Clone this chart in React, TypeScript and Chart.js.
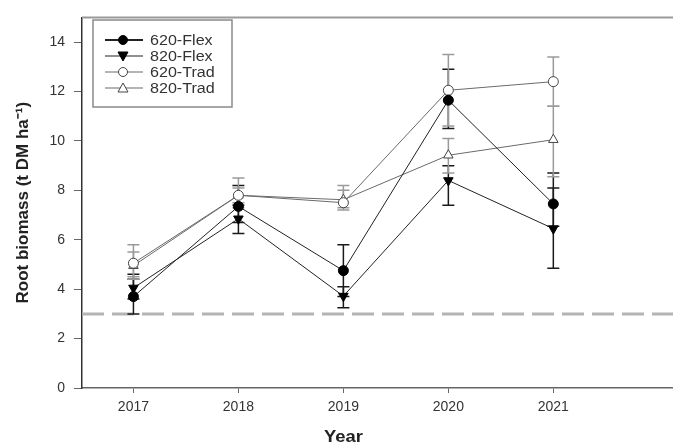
import React, { useEffect, useRef } from "react";
import { Chart, registerables } from "chart.js";

Chart.register(...registerables);

const years = [2017, 2018, 2019, 2020, 2021];
const yTicks = [0, 2, 4, 6, 8, 10, 12, 14];

const flex620 = [3.7, 7.35, 4.75, 11.65, 7.45];
const flex620Low = [3.0, 6.7, 3.7, 10.5, 6.55];
const flex620High = [4.4, 8.2, 5.8, 12.9, 8.7];

const flex820 = [4.05, 6.85, 3.72, 8.4, 6.45];
const flex820Low = [3.6, 6.25, 3.25, 7.4, 4.85];
const flex820High = [4.6, 7.4, 4.1, 9.0, 8.1];

const trad620 = [5.05, 7.8, 7.5, 12.05, 12.4];
const trad620Low = [4.4, 7.3, 7.2, 10.6, 11.4];
const trad620High = [5.8, 8.5, 8.2, 13.5, 13.4];

const trad820 = [4.95, 7.8, 7.62, 9.42, 10.05];
const trad820Low = [4.5, 7.5, 7.3, 8.7, 8.55];
const trad820High = [5.5, 8.1, 8.0, 10.1, 11.4];

const referenceLine = 3.0;

const FONT = "'Liberation Sans', Arial, sans-serif";

const errLow = [flex620Low, flex820Low, trad620Low, trad820Low];
const errHigh = [flex620High, flex820High, trad620High, trad820High];
const errColor = ["#1a1a1a", "#1a1a1a", "#9a9a9a", "#9a9a9a"];

const toPts = (arr: number[]) => years.map((x, i) => ({ x, y: arr[i] }));

const backPlugin = {
  id: "backDecor",
  beforeDatasetsDraw(chart: any) {
    const { ctx, chartArea, scales } = chart;
    const xs = scales.x;
    const ys = scales.y;
    ctx.save();
    const yr = ys.getPixelForValue(referenceLine);
    ctx.strokeStyle = "#b4b4b4";
    ctx.lineWidth = 3;
    ctx.setLineDash([22, 8]);
    ctx.beginPath();
    ctx.moveTo(chartArea.left, yr);
    ctx.lineTo(chartArea.right, yr);
    ctx.stroke();
    ctx.setLineDash([]);
    for (let d = 0; d < errLow.length; d++) {
      ctx.strokeStyle = errColor[d];
      ctx.lineWidth = 1.5;
      for (let i = 0; i < years.length; i++) {
        const px = xs.getPixelForValue(years[i]);
        const lo = ys.getPixelForValue(errLow[d][i]);
        const hi = ys.getPixelForValue(errHigh[d][i]);
        ctx.beginPath();
        ctx.moveTo(px, lo);
        ctx.lineTo(px, hi);
        ctx.moveTo(px - 6, lo);
        ctx.lineTo(px + 6, lo);
        ctx.moveTo(px - 6, hi);
        ctx.lineTo(px + 6, hi);
        ctx.stroke();
      }
    }
    ctx.restore();
  },
  afterDraw(chart: any) {
    const { ctx, chartArea, scales } = chart;
    ctx.save();
    ctx.strokeStyle = "#9a9a9a";
    ctx.lineWidth = 2;
    ctx.beginPath();
    ctx.moveTo(chartArea.left, chartArea.top);
    ctx.lineTo(chartArea.right, chartArea.top);
    ctx.stroke();
    // x title
    ctx.fillStyle = "#222";
    ctx.font = `bold 16px ${FONT}`;
    ctx.textAlign = "center";
    ctx.textBaseline = "middle";
    ctx.save();
    ctx.translate(scales.x.getPixelForValue(2019), 438);
    ctx.scale(1.15, 1);
    ctx.fillText("Year", 0, 0);
    ctx.restore();
    // legend
    const bx = 93, by = 20, bw = 139, bh = 87;
    ctx.strokeStyle = "#8a8a8a";
    ctx.lineWidth = 1.5;
    ctx.strokeRect(bx, by, bw, bh);
    const ds = chart.data.datasets;
    ds.forEach((d: any, i: number) => {
      const y = 40 + i * 16;
      ctx.strokeStyle = d.borderColor;
      ctx.lineWidth = i === 0 ? 2 : 1.2;
      ctx.beginPath();
      ctx.moveTo(105, y);
      ctx.lineTo(143, y);
      ctx.stroke();
      ctx.fillStyle = d.pointBackgroundColor;
      ctx.strokeStyle = d.pointBorderColor;
      ctx.lineWidth = 1;
      ctx.beginPath();
      const cx = 123;
      if (d.pointStyle === "circle") {
        ctx.arc(cx, y, 4.5, 0, Math.PI * 2);
      } else if (d.pointRotation === 180) {
        ctx.moveTo(cx - 5, y - 4);
        ctx.lineTo(cx + 5, y - 4);
        ctx.lineTo(cx, y + 5);
        ctx.closePath();
      } else {
        ctx.moveTo(cx - 5, y + 4);
        ctx.lineTo(cx + 5, y + 4);
        ctx.lineTo(cx, y - 5);
        ctx.closePath();
      }
      ctx.fill();
      ctx.stroke();
      ctx.fillStyle = "#333";
      ctx.font = `14px ${FONT}`;
      ctx.textAlign = "left";
      ctx.textBaseline = "middle";
      ctx.save();
      ctx.translate(150, y + 1);
      ctx.scale(1.15, 1);
      ctx.fillText(d.label, 0, 0);
      ctx.restore();
    });
    ctx.restore();
  },
};

export default function App() {
  const ref = useRef<HTMLCanvasElement>(null);
  useEffect(() => {
    if (!ref.current) return;
    const chart = new Chart(ref.current, {
      type: "line",
      data: {
        datasets: [
          {
            label: "620-Flex",
            data: toPts(flex620),
            borderColor: "#222",
            borderWidth: 1,
            pointStyle: "circle",
            pointRadius: 5,
            pointBackgroundColor: "#000",
            pointBorderColor: "#000",
          },
          {
            label: "820-Flex",
            data: toPts(flex820),
            borderColor: "#222",
            borderWidth: 1,
            pointStyle: "triangle",
            pointRotation: 180,
            pointRadius: 5.5,
            pointBackgroundColor: "#000",
            pointBorderColor: "#000",
          },
          {
            label: "620-Trad",
            data: toPts(trad620),
            borderColor: "#6a6a6a",
            borderWidth: 1,
            pointStyle: "circle",
            pointRadius: 5,
            pointBackgroundColor: "#fff",
            pointBorderColor: "#444",
            pointBorderWidth: 1,
          },
          {
            label: "820-Trad",
            data: toPts(trad820),
            borderColor: "#6a6a6a",
            borderWidth: 1,
            pointStyle: "triangle",
            pointRadius: 5.5,
            pointBackgroundColor: "#fff",
            pointBorderColor: "#444",
            pointBorderWidth: 1,
          },
        ] as any,
      },
      options: {
        animation: false,
        responsive: false,
        layout: { autoPadding: false, padding: { top: 13, left: 0, right: 0, bottom: 0 } },
        plugins: { legend: { display: false }, tooltip: { enabled: false } },
        scales: {
          x: {
            type: "linear",
            min: 2016.51,
            max: 2022.14,
            afterBuildTicks: (s: any) => {
              s.ticks = years.map((v) => ({ value: v }));
            },
            afterFit: (s: any) => {
              s.height = 59;
            },
            ticks: {
              color: "#333",
              font: { family: FONT, size: 14 },
              padding: 6,
              maxRotation: 0,
              callback: (v: any) => String(v),
            },
            grid: { drawOnChartArea: false, drawTicks: true, tickLength: 5, tickColor: "#666" },
            border: { color: "#666", width: 1.5 },
          },
          y: {
            min: 0,
            max: 15,
            afterBuildTicks: (s: any) => {
              s.ticks = yTicks.map((v) => ({ value: v }));
            },
            afterFit: (s: any) => {
              s.width = 82;
            },
            ticks: {
              color: "#333",
              font: { family: FONT, size: 14 },
              padding: 9,
            },
            grid: { drawOnChartArea: false, drawTicks: true, tickLength: 8, tickColor: "#666" },
            border: { color: "#333", width: 1.5 },
            title: {
              display: true,
              text: "Root biomass (t DM ha\u207B\u00B9)",
              color: "#222",
              font: { family: FONT, size: 17, weight: "bold" },
              padding: { top: 13, bottom: 0 },
            },
          },
        },
      } as any,
      plugins: [backPlugin],
    });
    return () => chart.destroy();
  }, []);
  return (
    <div style={{ position: "fixed", left: 0, top: 0, width: 673, height: 447, background: "#fff" }}>
      <canvas ref={ref} width={673} height={447} style={{ display: "block" }} />
    </div>
  );
}
